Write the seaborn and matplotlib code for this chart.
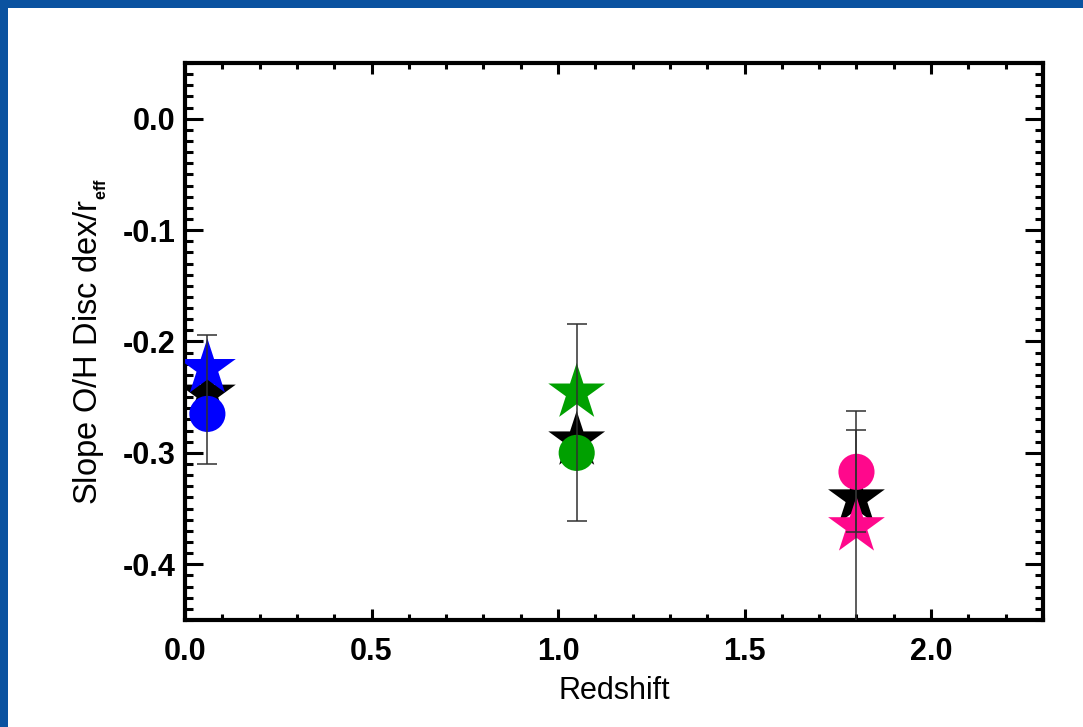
import numpy as np
import pandas as pd
import matplotlib
matplotlib.use("Agg")
import matplotlib.pyplot as plt
from matplotlib.patches import Rectangle
from matplotlib.ticker import MultipleLocator
import seaborn as sns

# ---- data ----
groups = ["z0", "z1", "z2"]
redshift = [0.06, 1.05, 1.80]
group_colors = ["#0000FF", "#00A000", "#FF088C"]
star_colored = [-0.224, -0.246, -0.366]
star_black = [-0.247, -0.289, -0.341]
circle_vals = [-0.265, -0.300, -0.317]

err_x = [0.06, 1.05, 1.80, 1.80]
err_low = [-0.310, -0.361, -0.460, -0.371]
err_high = [-0.194, -0.184, -0.262, -0.279]

xticks = [0.0, 0.5, 1.0, 1.5, 2.0]
yticks = [0.0, -0.1, -0.2, -0.3, -0.4]

sns.set_theme(style="white")
plt.rcParams["font.family"] = ["Liberation Sans", "DejaVu Sans"]
plt.rcParams["mathtext.fontset"] = "custom"
plt.rcParams["mathtext.rm"] = "Liberation Sans"
plt.rcParams["mathtext.bf"] = "Liberation Sans:bold"
plt.rcParams["text.color"] = "black"
plt.rcParams["axes.labelcolor"] = "black"
plt.rcParams["xtick.color"] = "black"
plt.rcParams["ytick.color"] = "black"

fig = plt.figure(figsize=(10.83, 7.27), dpi=100)
fig.patch.set_facecolor("white")
ax = fig.add_axes([185 / 1083, 1 - 620 / 727, (1043 - 185) / 1083, (620 - 63) / 727])

# blue slide border (top and left)
border = "#0A52A0"
fig.patches.append(Rectangle((0, 1 - 8 / 727), 1, 8 / 727, transform=fig.transFigure,
                             facecolor=border, edgecolor="none", zorder=0))
fig.patches.append(Rectangle((0, 0), 8 / 1083, 1, transform=fig.transFigure,
                             facecolor=border, edgecolor="none", zorder=0))

df = pd.DataFrame({
    "group": groups,
    "z": redshift,
    "star_c": star_colored,
    "star_k": star_black,
    "circ": circle_vals,
})
pal = dict(zip(groups, group_colors))

star_s = 43 ** 2
circ_s = 26 ** 2

sns.scatterplot(data=df, x="z", y="star_k", marker="*", s=star_s, color="black",
                edgecolor="none", linewidth=0, ax=ax, zorder=2, legend=False)
sns.scatterplot(data=df, x="z", y="star_c", hue="group", palette=pal, marker="*",
                s=star_s, edgecolor="none", linewidth=0, ax=ax, zorder=3, legend=False)
sns.scatterplot(data=df, x="z", y="circ", hue="group", palette=pal, marker="o",
                s=circ_s, edgecolor="none", linewidth=0, ax=ax, zorder=4, legend=False)

elo = np.array(err_low)
ehi = np.array(err_high)
mid = (elo + ehi) / 2
ax.errorbar(err_x, mid, yerr=[mid - elo, ehi - mid], fmt="none", ecolor="#303030",
            elinewidth=1.1, capsize=7, capthick=1.1, zorder=5)

ax.set_xlim(0, 2.3)
ax.set_ylim(-0.45, 0.05)
ax.set_xticks(xticks)
ax.set_yticks(yticks)
ax.set_xticklabels([f"{v:.1f}" for v in xticks], fontsize=22, fontweight="bold")
ax.set_yticklabels([f"{v:.1f}" for v in yticks], fontsize=22, fontweight="bold")
ax.xaxis.set_minor_locator(MultipleLocator(0.1))
ax.yaxis.set_minor_locator(MultipleLocator(0.01))

ax.tick_params(axis="both", which="both", direction="in", top=True, right=True,
               bottom=True, left=True, color="black", width=2.2)
ax.tick_params(axis="x", which="major", length=8, pad=12)
ax.tick_params(axis="x", which="minor", length=4)
ax.tick_params(axis="y", which="major", length=13, pad=7)
ax.tick_params(axis="y", which="minor", length=6)
for sp in ax.spines.values():
    sp.set_color("black")
    sp.set_linewidth(3)
    sp.set_visible(True)

ax.set_xlabel("Redshift", fontsize=22, labelpad=7)
ax.set_ylabel(r"Slope O/H Disc dex/r$_{_{\mathbf{eff}}}$", fontsize=23.5, labelpad=10)
ax.grid(False)

fig.savefig("out.png", dpi=100, facecolor="white")
